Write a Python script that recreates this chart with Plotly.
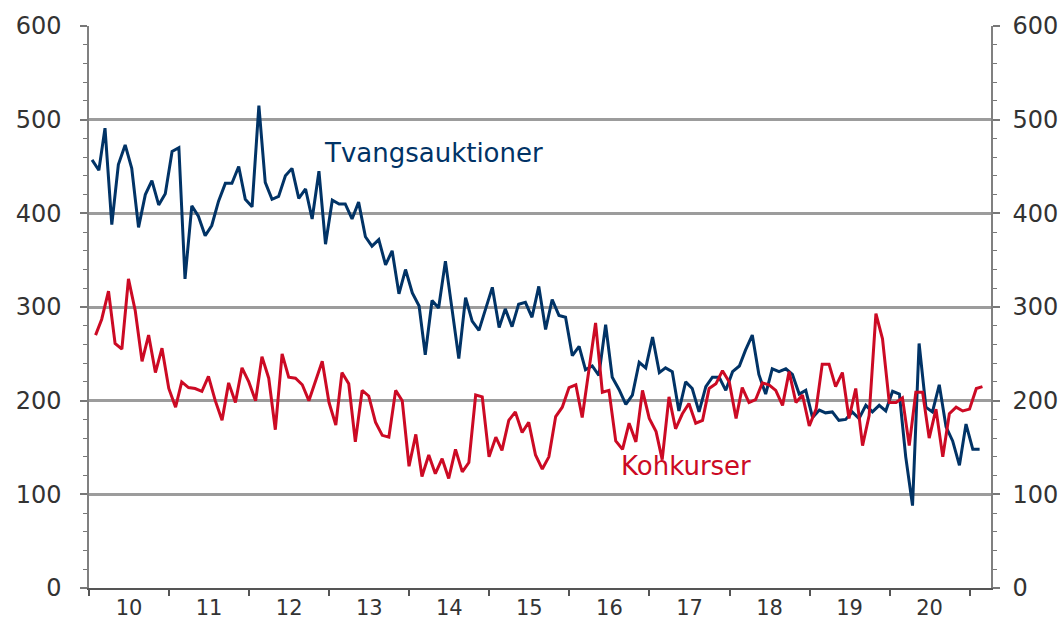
import pandas as pd
import plotly.graph_objects as go

# Monthly data, Jan 2010 - Feb 2021
tvangsauktioner = [
    457, 446, 491, 388, 452, 473, 448, 385, 420, 435, 409, 421,
    466, 470, 330, 408, 397, 376, 387, 413, 432, 432, 450, 415,
    407, 515, 433, 415, 418, 440, 448, 416, 426, 394, 445, 367,
    414, 410, 410, 394, 412, 375, 365, 372, 345, 360, 314, 340,
    315, 301, 249, 307, 299, 349, 298, 245, 310, 285, 275, 298,
    321, 278, 298, 279, 303, 305, 289, 322, 276, 308, 291, 289,
    248, 258, 233, 237, 227, 281, 225, 212, 196, 206, 241, 235,
    268, 230, 235, 231, 189, 220, 213, 188, 215, 225, 225, 211,
    231, 237, 254, 270, 228, 207, 234, 231, 234, 228, 207, 211,
    182, 190, 187, 188, 179, 180, 188, 181, 195, 188, 195, 189,
    210, 207, 140, 88, 261, 193, 188, 217, 172, 157, 131, 175,
    148, 148,
]
konkurser = [
    270, 287, 317, 261, 255, 330, 296, 242, 270, 230, 256, 213,
    193, 220, 214, 213, 210, 226, 200, 179, 219, 198, 235, 220,
    200, 247, 224, 169, 250, 225, 224, 217, 200, 221, 242, 198,
    174, 230, 218, 156, 211, 205, 177, 163, 161, 211, 200, 130,
    164, 119, 142, 122, 138, 117, 148, 124, 134, 206, 204, 140,
    161, 147, 179, 188, 166, 177, 142, 127, 140, 183, 193, 214,
    217, 182, 235, 283, 209, 211, 157, 148, 176, 156, 211, 181,
    167, 137, 204, 170, 186, 197, 176, 179, 213, 218, 232, 220,
    181, 214, 198, 201, 219, 217, 211, 195, 231, 198, 206, 173,
    191, 239, 239, 215, 230, 181, 213, 152, 184, 293, 266, 198,
    198, 203, 152, 209, 209, 160, 191, 140, 186, 193, 189, 191,
    213, 215,
]
y_ticks = [0, 100, 200, 300, 400, 500, 600]

months = pd.date_range("2010-01-01", periods=len(tvangsauktioner), freq="MS")
blue_x = months + pd.Timedelta(days=14)
red_x = months + pd.offsets.MonthEnd(0)

BLUE = "#013366"
RED = "#CC0A24"
GRID = "#9c9c9c"
TXT = "#333333"
FONT = "DejaVu Sans"

fig = go.Figure()
fig.add_trace(go.Scatter(x=blue_x, y=tvangsauktioner, mode="lines",
                         line=dict(color=BLUE, width=3), name="Tvangsauktioner",
                         yaxis="y"))
fig.add_trace(go.Scatter(x=red_x, y=konkurser, mode="lines",
                         line=dict(color=RED, width=3), name="Kohkurser",
                         yaxis="y2"))

yax_common = dict(
    range=[0, 600], tickvals=y_ticks, ticks="outside", ticklen=7, tickwidth=1.5,
    tickcolor="#777777", showline=True, linecolor="#808080", linewidth=1.5,
    zeroline=False, tickfont=dict(family=FONT, size=24, color=TXT),
    minor=dict(dtick=20, ticks="outside", ticklen=4, tickcolor="#777777", tickwidth=1),
    fixedrange=True, automargin=False,
)

fig.update_layout(
    width=1064, height=621,
    margin=dict(l=89, r=73, t=26, b=33, autoexpand=False),
    paper_bgcolor="white", plot_bgcolor="white",
    showlegend=False,
    xaxis=dict(
        type="date",
        range=["2010-01-01", "2021-04-08"],
        tick0="2010-01-01", dtick="M12", tickformat="%y",
        ticklabelmode="period",
        ticks="outside", ticklen=6, tickwidth=1.5, tickcolor="#555555",
        showline=True, linecolor="#555555", linewidth=2,
        showgrid=False, zeroline=False, automargin=False,
        ticklabelstandoff=-6, fixedrange=True,
        tickfont=dict(family=FONT, size=21, color=TXT),
    ),
    yaxis=dict(**yax_common, side="left", showgrid=True, gridcolor=GRID,
               gridwidth=3, ticklabelstandoff=14),
    yaxis2=dict(**yax_common, side="right", overlaying="y", showgrid=False,
                ticklabelstandoff=8),
    annotations=[
        dict(text="Tvangsauktioner", xref="paper", yref="y", x=0.2585, y=464,
             xanchor="left", yanchor="middle", showarrow=False,
             font=dict(family=FONT, size=26, color=BLUE)),
        dict(text="Kohkurser", xref="paper", yref="y", x=0.5875, y=130,
             xanchor="left", yanchor="middle", showarrow=False,
             font=dict(family=FONT, size=26, color=RED)),
    ],
)

fig.write_html("out.html", config={"displayModeBar": False},
               post_script="document.body.style.margin='0';")
